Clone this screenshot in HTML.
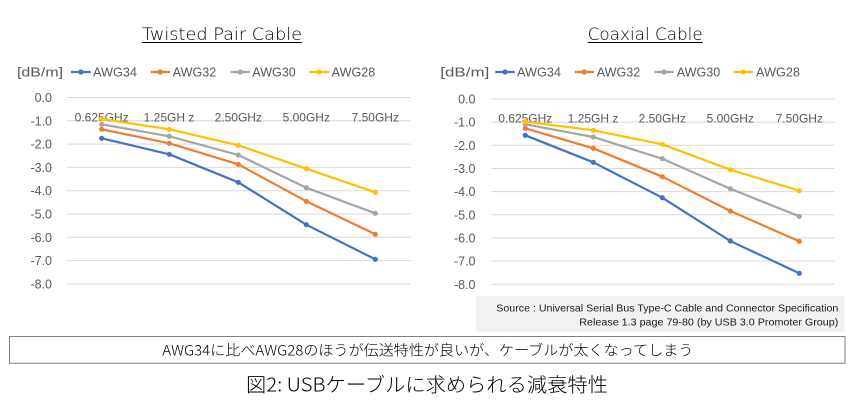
<!DOCTYPE html>
<html><head><meta charset="utf-8"><style>
html,body{margin:0;padding:0;background:#fff;}
svg{display:block;}
text{font-family:"Liberation Sans","Noto Sans CJK JP",sans-serif;}
.thin{font-family:"DejaVu Sans","Liberation Sans",sans-serif;font-weight:200;}
.jp{font-family:"Noto Sans CJK JP","Liberation Sans",sans-serif;font-weight:300;}
</style></head><body>
<svg width="854" height="415" viewBox="0 0 854 415" xmlns="http://www.w3.org/2000/svg">
<rect width="854" height="415" fill="#fff"/>

<!-- ===== LEFT CHART ===== -->
<text class="thin" x="142" y="40" font-size="17" fill="#000" textLength="160" lengthAdjust="spacingAndGlyphs">Twisted Pair Cable</text>
<line x1="142" y1="42.5" x2="302" y2="42.5" stroke="#000" stroke-width="1"/>

<g font-size="12.5" fill="#595959">
<text x="17" y="76.5" textLength="46" lengthAdjust="spacingAndGlyphs">[dB/m]</text>
<text x="93" y="76.5" textLength="44" lengthAdjust="spacingAndGlyphs">AWG34</text>
<text x="172.7" y="76.5" textLength="43.5" lengthAdjust="spacingAndGlyphs">AWG32</text>
<text x="252.3" y="76.5" textLength="43.5" lengthAdjust="spacingAndGlyphs">AWG30</text>
<text x="331.7" y="76.5" textLength="43.5" lengthAdjust="spacingAndGlyphs">AWG28</text>
</g>
<g stroke-width="2.2">
<line x1="71" y1="72" x2="90.7" y2="72" stroke="#4472C4"/>
<line x1="150.7" y1="72" x2="170" y2="72" stroke="#ED7D31"/>
<line x1="230.7" y1="72" x2="250" y2="72" stroke="#A5A5A5"/>
<line x1="309.3" y1="72" x2="329.3" y2="72" stroke="#FFC000"/>
</g>
<circle cx="80.8" cy="72" r="2.6" fill="#4472C4"/>
<circle cx="160.3" cy="72" r="2.6" fill="#ED7D31"/>
<circle cx="240.3" cy="72" r="2.6" fill="#A5A5A5"/>
<circle cx="319.3" cy="72" r="2.6" fill="#FFC000"/>

<g stroke="#d9d9d9" stroke-width="1">
<line x1="67" y1="97.5" x2="410.7" y2="97.5"/>
<line x1="67" y1="120.8" x2="410.7" y2="120.8"/>
<line x1="67" y1="144.1" x2="410.7" y2="144.1"/>
<line x1="67" y1="167.4" x2="410.7" y2="167.4"/>
<line x1="67" y1="190.7" x2="410.7" y2="190.7"/>
<line x1="67" y1="214" x2="410.7" y2="214"/>
<line x1="67" y1="237.3" x2="410.7" y2="237.3"/>
<line x1="67" y1="260.6" x2="410.7" y2="260.6"/>
<line x1="67" y1="283.9" x2="410.7" y2="283.9"/>
</g>
<g font-size="12.5" fill="#595959" text-anchor="end">
<text x="52" y="102">0.0</text>
<text x="52" y="125.3">-1.0</text>
<text x="52" y="148.6">-2.0</text>
<text x="52" y="171.9">-3.0</text>
<text x="52" y="195.2">-4.0</text>
<text x="52" y="218.5">-5.0</text>
<text x="52" y="241.8">-6.0</text>
<text x="52" y="265.1">-7.0</text>
<text x="52" y="288.4">-8.0</text>
</g>
<g font-size="12" fill="#595959" text-anchor="middle">
<text x="101.7" y="121.5">0.625GHz</text>
<text x="169" y="121.5">1.25GH z</text>
<text x="238.3" y="121.5">2.50GHz</text>
<text x="306.3" y="121.5">5.00GHz</text>
<text x="375.3" y="121.5">7.50GHz</text>
</g>

<g fill="none" stroke-width="2.2" stroke-linejoin="round">
<polyline stroke="#4472C4" points="101.7,138.3 169.3,154.3 238.3,182.3 306.3,224.7 375.3,259.3"/>
<polyline stroke="#ED7D31" points="101.7,129.3 169.3,143.3 238.3,164.3 306.3,201.3 375.3,234.3"/>
<polyline stroke="#A5A5A5" points="101.7,124.3 169.3,136.3 238.3,155 306.3,187.7 375.3,213.3"/>
<polyline stroke="#FFC000" points="101.7,119 169.3,129.3 238.3,145.3 306.3,168.7 375.3,192.3"/>
</g>
<g fill="#4472C4"><circle cx="101.7" cy="138.3" r="2.6"/><circle cx="169.3" cy="154.3" r="2.6"/><circle cx="238.3" cy="182.3" r="2.6"/><circle cx="306.3" cy="224.7" r="2.6"/><circle cx="375.3" cy="259.3" r="2.6"/></g>
<g fill="#ED7D31"><circle cx="101.7" cy="129.3" r="2.6"/><circle cx="169.3" cy="143.3" r="2.6"/><circle cx="238.3" cy="164.3" r="2.6"/><circle cx="306.3" cy="201.3" r="2.6"/><circle cx="375.3" cy="234.3" r="2.6"/></g>
<g fill="#A5A5A5"><circle cx="101.7" cy="124.3" r="2.6"/><circle cx="169.3" cy="136.3" r="2.6"/><circle cx="238.3" cy="155" r="2.6"/><circle cx="306.3" cy="187.7" r="2.6"/><circle cx="375.3" cy="213.3" r="2.6"/></g>
<g fill="#FFC000"><circle cx="101.7" cy="119" r="2.6"/><circle cx="169.3" cy="129.3" r="2.6"/><circle cx="238.3" cy="145.3" r="2.6"/><circle cx="306.3" cy="168.7" r="2.6"/><circle cx="375.3" cy="192.3" r="2.6"/></g>

<!-- ===== RIGHT CHART ===== -->
<text class="thin" x="587.7" y="40" font-size="17" fill="#000" textLength="115" lengthAdjust="spacingAndGlyphs">Coaxial Cable</text>
<line x1="587.7" y1="42.5" x2="702.7" y2="42.5" stroke="#000" stroke-width="1"/>

<g font-size="12.5" fill="#595959">
<text x="440.3" y="76.5" textLength="49" lengthAdjust="spacingAndGlyphs">[dB/m]</text>
<text x="517" y="76.5" textLength="44" lengthAdjust="spacingAndGlyphs">AWG34</text>
<text x="596.7" y="76.5" textLength="43.5" lengthAdjust="spacingAndGlyphs">AWG32</text>
<text x="676.7" y="76.5" textLength="43.5" lengthAdjust="spacingAndGlyphs">AWG30</text>
<text x="756" y="76.5" textLength="44" lengthAdjust="spacingAndGlyphs">AWG28</text>
</g>
<g stroke-width="2.2">
<line x1="495.3" y1="72" x2="514.7" y2="72" stroke="#4472C4"/>
<line x1="574.7" y1="72" x2="594" y2="72" stroke="#ED7D31"/>
<line x1="654.3" y1="72" x2="673.7" y2="72" stroke="#A5A5A5"/>
<line x1="733.7" y1="72" x2="753" y2="72" stroke="#FFC000"/>
</g>
<circle cx="505" cy="72" r="2.6" fill="#4472C4"/>
<circle cx="584.3" cy="72" r="2.6" fill="#ED7D31"/>
<circle cx="664" cy="72" r="2.6" fill="#A5A5A5"/>
<circle cx="743.3" cy="72" r="2.6" fill="#FFC000"/>

<g stroke="#d9d9d9" stroke-width="1">
<line x1="491.3" y1="99" x2="834.3" y2="99"/>
<line x1="491.3" y1="122.2" x2="834.3" y2="122.2"/>
<line x1="491.3" y1="145.3" x2="834.3" y2="145.3"/>
<line x1="491.3" y1="168.5" x2="834.3" y2="168.5"/>
<line x1="491.3" y1="191.6" x2="834.3" y2="191.6"/>
<line x1="491.3" y1="214.8" x2="834.3" y2="214.8"/>
<line x1="491.3" y1="238" x2="834.3" y2="238"/>
<line x1="491.3" y1="261.1" x2="834.3" y2="261.1"/>
<line x1="491.3" y1="284.3" x2="834.3" y2="284.3"/>
</g>
<g font-size="12.5" fill="#595959" text-anchor="end">
<text x="475.5" y="103.5">0.0</text>
<text x="475.5" y="126.7">-1.0</text>
<text x="475.5" y="149.8">-2.0</text>
<text x="475.5" y="173">-3.0</text>
<text x="475.5" y="196.1">-4.0</text>
<text x="475.5" y="219.3">-5.0</text>
<text x="475.5" y="242.5">-6.0</text>
<text x="475.5" y="265.6">-7.0</text>
<text x="475.5" y="288.8">-8.0</text>
</g>
<g font-size="12" fill="#595959" text-anchor="middle">
<text x="525.3" y="122.5">0.625GHz</text>
<text x="593" y="122.5">1.25GH z</text>
<text x="662.3" y="122.5">2.50GHz</text>
<text x="730.3" y="122.5">5.00GHz</text>
<text x="799.3" y="122.5">7.50GHz</text>
</g>

<g fill="none" stroke-width="2.2" stroke-linejoin="round">
<polyline stroke="#4472C4" points="525.3,135.3 593.3,162.3 662.3,197.7 730.3,241 799.3,273.3"/>
<polyline stroke="#ED7D31" points="525.3,128.3 593.3,148.3 662.3,176.7 730.3,211 799.3,241.3"/>
<polyline stroke="#A5A5A5" points="525.3,124.3 593.3,137 662.3,158.7 730.3,188.7 799.3,216.3"/>
<polyline stroke="#FFC000" points="525.3,121.7 593.3,130.3 662.3,144.3 730.3,169.7 799.3,190.7"/>
</g>
<g fill="#4472C4"><circle cx="525.3" cy="135.3" r="2.6"/><circle cx="593.3" cy="162.3" r="2.6"/><circle cx="662.3" cy="197.7" r="2.6"/><circle cx="730.3" cy="241" r="2.6"/><circle cx="799.3" cy="273.3" r="2.6"/></g>
<g fill="#ED7D31"><circle cx="525.3" cy="128.3" r="2.6"/><circle cx="593.3" cy="148.3" r="2.6"/><circle cx="662.3" cy="176.7" r="2.6"/><circle cx="730.3" cy="211" r="2.6"/><circle cx="799.3" cy="241.3" r="2.6"/></g>
<g fill="#A5A5A5"><circle cx="525.3" cy="124.3" r="2.6"/><circle cx="593.3" cy="137" r="2.6"/><circle cx="662.3" cy="158.7" r="2.6"/><circle cx="730.3" cy="188.7" r="2.6"/><circle cx="799.3" cy="216.3" r="2.6"/></g>
<g fill="#FFC000"><circle cx="525.3" cy="121.7" r="2.6"/><circle cx="593.3" cy="130.3" r="2.6"/><circle cx="662.3" cy="144.3" r="2.6"/><circle cx="730.3" cy="169.7" r="2.6"/><circle cx="799.3" cy="190.7" r="2.6"/></g>

<!-- Source box -->
<rect x="475.7" y="296" width="369" height="36.3" fill="#f2f2f2"/>
<g font-size="10" fill="#1a1a1a" text-anchor="end">
<text x="838.3" y="311.3" textLength="342" lengthAdjust="spacingAndGlyphs">Source : Universal Serial Bus Type-C Cable and Connector Specification</text>
<text x="838.3" y="325.3" textLength="259" lengthAdjust="spacingAndGlyphs">Release 1.3 page 79-80  (by USB 3.0 Promoter Group)</text>
</g>

<!-- Bottom note box -->
<rect x="9.5" y="336.5" width="835.5" height="26.8" fill="#fff" stroke="#7f7f7f" stroke-width="1"/>
<text class="jp" x="162.3" y="355.3" font-size="14.5" fill="#000" textLength="531" lengthAdjust="spacingAndGlyphs">AWG34に比べAWG28のほうが伝送特性が良いが、ケーブルが太くなってしまう</text>

<!-- Figure caption -->
<text class="jp" x="246" y="391.5" font-size="19.5" fill="#000" textLength="362" lengthAdjust="spacingAndGlyphs">図2: USBケーブルに求められる減衰特性</text>
</svg>
</body></html>
